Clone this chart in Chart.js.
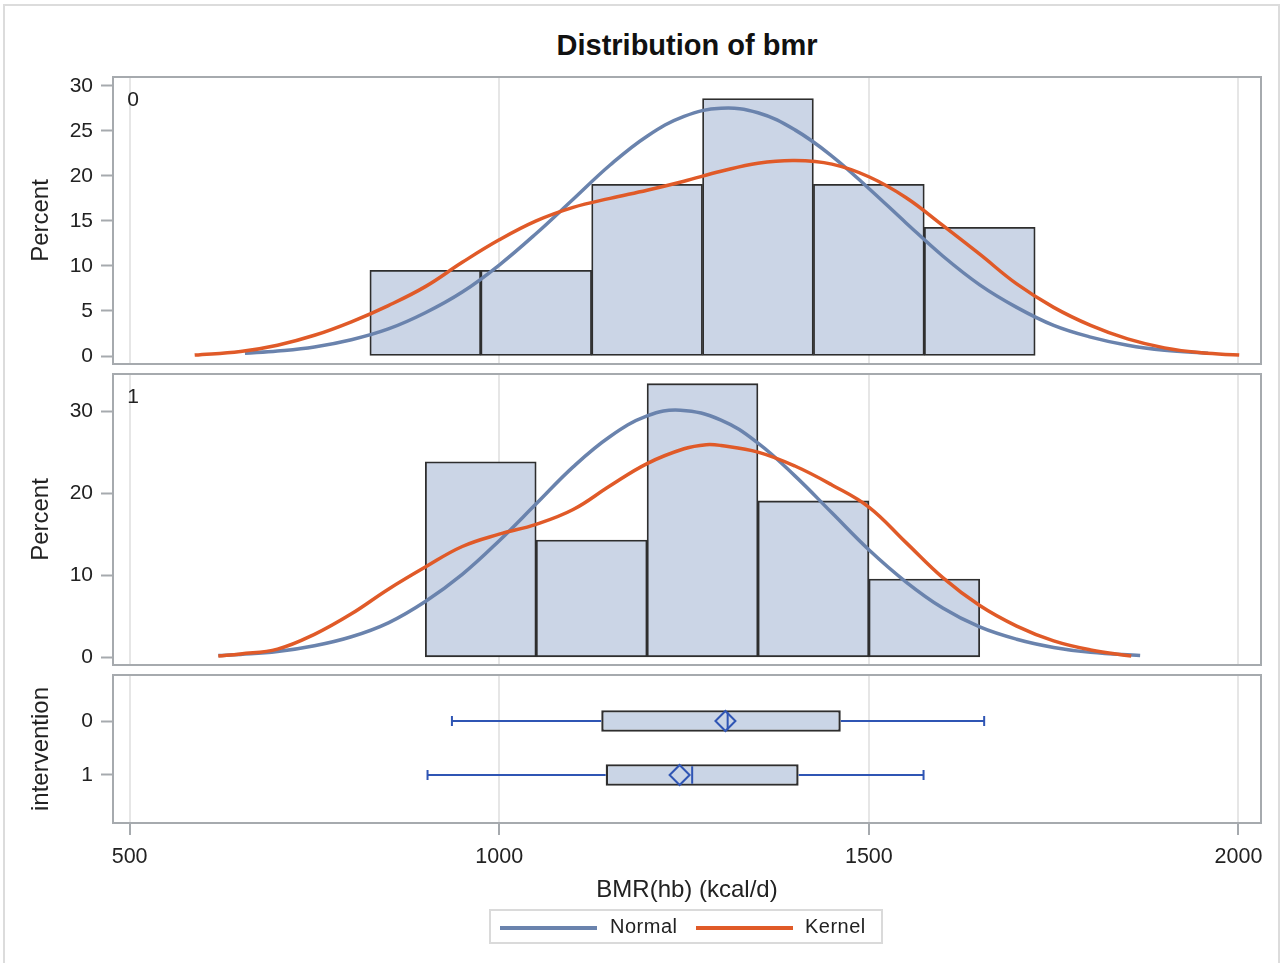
<!DOCTYPE html>
<html>
<head>
<meta charset="utf-8">
<title>Distribution of bmr</title>
<script src="https://cdn.jsdelivr.net/npm/chart.js@4.4.1/dist/chart.umd.min.js"></script>
<style>
  html, body { margin: 0; padding: 0; background: #fff; }
  #wrap { position: relative; width: 1285px; height: 963px; overflow: hidden;
          font-family: 'Liberation Sans', Arial, sans-serif; color: #222; }
  #frame { position: absolute; left: 3px; top: 4px; width: 1277px; height: 990px;
           border: 2px solid #dcdcdc; box-sizing: border-box; }
  canvas { position: absolute; left: 0; top: 0; }
  #title { position: absolute; left: 113px; width: 1148px; top: 31px; line-height: 29px;
           font-size: 29px; font-weight: bold; text-align: center; color: #111; }
  #legend { position: absolute; left: 489px; top: 909px; width: 394px; height: 35px;
            border: 2px solid #dadada; box-sizing: border-box; }
  #legend .swatch { position: absolute; top: 15px; height: 4px; width: 97px; }
  #legend .txt { position: absolute; top: 5px; font-size: 20px; line-height: 20px;
                 letter-spacing: 0.5px; color: #222; }
</style>
</head>
<body>
<div id="wrap">
  <div id="frame"></div>
  <div id="title">Distribution of bmr</div>
  <canvas id="hist0" width="1285" height="963"></canvas>
  <canvas id="hist1" width="1285" height="963"></canvas>
  <canvas id="boxes" width="1285" height="963"></canvas>
  <div id="legend">
    <span class="swatch" style="left:9px;background:#6a83ad"></span>
    <span class="txt" style="left:119px">Normal</span>
    <span class="swatch" style="left:205px;background:#e05a28"></span>
    <span class="txt" style="left:314px">Kernel</span>
  </div>
</div>
<script>
// shared x axis
const xMin = 477.5;
const xMax = 2030.5;
const xTicks = [500, 1000, 1500, 2000];

// histogram, intervention = 0
const binCenters0 = [900, 1050, 1200, 1350, 1500, 1650];
const percent0 = [9.52, 9.52, 19.05, 28.57, 19.05, 14.29];
const normalX0 = [656, 700, 750, 800, 850, 900, 950, 1000, 1050, 1100, 1150, 1200, 1250, 1300,
                  1350, 1400, 1450, 1500, 1550, 1600, 1650, 1700, 1750, 1800, 1850, 1900, 1959];
const normalY0 = [0.3, 0.55, 1.0, 1.8, 3.0, 4.8, 7.1, 10.1, 13.6, 17.4, 21.2, 24.4, 26.6, 27.5,
                  27.0, 25.1, 22.2, 18.6, 14.8, 11.1, 7.9, 5.4, 3.4, 2.1, 1.2, 0.65, 0.3];
const kernelX0 = [588, 650, 700, 750, 800, 850, 900, 950, 1000, 1050, 1100, 1150, 1200, 1250, 1300,
                  1350, 1400, 1450, 1500, 1550, 1600, 1650, 1700, 1750, 1800, 1850, 1900, 1950, 2001];
const kernelY0 = [0.1, 0.5, 1.2, 2.3, 3.8, 5.6, 7.7, 10.4, 12.9, 15.0, 16.5, 17.5, 18.4, 19.4, 20.5,
                  21.4, 21.7, 21.3, 19.9, 17.6, 14.5, 11.3, 8.0, 5.4, 3.4, 1.9, 0.9, 0.35, 0.1];

// histogram, intervention = 1
const binCenters1 = [975, 1125, 1275, 1425, 1575];
const percent1 = [23.81, 14.29, 33.33, 19.05, 9.52];
const normalX1 = [620, 650, 700, 750, 800, 850, 900, 950, 1000, 1050, 1100, 1150, 1200, 1245,
                  1300, 1350, 1400, 1450, 1500, 1550, 1600, 1650, 1700, 1750, 1800, 1867];
const normalY1 = [0.22, 0.35, 0.7, 1.4, 2.5, 4.2, 6.8, 10.1, 14.2, 18.7, 23.2, 26.9, 29.4, 30.1,
                  28.9, 26.1, 22.1, 17.6, 13.1, 9.2, 6.0, 3.7, 2.2, 1.2, 0.6, 0.22];
const kernelX1 = [620, 650, 700, 750, 800, 850, 900, 950, 1000, 1050, 1100, 1150, 1200, 1250, 1280,
                  1300, 1350, 1400, 1450, 1500, 1550, 1600, 1650, 1700, 1750, 1800, 1855];
const kernelY1 = [0.15, 0.4, 1.0, 2.8, 5.3, 8.3, 11.0, 13.5, 15.0, 16.2, 18.0, 20.9, 23.6, 25.4, 25.9,
                  25.8, 25.0, 23.3, 21.0, 18.3, 14.0, 9.7, 6.3, 3.8, 2.0, 0.9, 0.15];

// box plot per intervention group
const groups = ['0', '1'];
const boxMin = [936, 903];
const boxQ1 = [1138, 1144];
const boxMedian = [1309, 1261];
const boxMean = [1306, 1244];
const boxQ3 = [1462, 1405];
const boxMax = [1656, 1574];

const FONT = "'Liberation Sans', Arial, sans-serif";
const TEXT = '#222';
const FRAME = '#a6aaae';
Chart.defaults.font.family = FONT;
Chart.defaults.color = TEXT;

// border around each panel plus the group tag in its corner
const panelFrame = {
  id: 'panelFrame',
  afterDraw(chart, args, opts) {
    const { ctx, chartArea: a } = chart;
    ctx.save();
    ctx.strokeStyle = FRAME;
    ctx.lineWidth = 2;
    ctx.strokeRect(a.left, a.top, a.right - a.left, a.bottom - a.top);
    if (opts.label) {
      ctx.fillStyle = TEXT;
      ctx.font = '21px ' + FONT;
      ctx.textAlign = 'center';
      ctx.textBaseline = 'middle';
      ctx.fillText(opts.label, a.left + 20, a.top + 23);
    }
    ctx.restore();
  }
};

// whiskers, caps, median and mean diamond on top of the floating boxes
const boxWhiskers = {
  id: 'boxWhiskers',
  afterDatasetsDraw(chart) {
    const { ctx, scales: { x, y } } = chart;
    const half = (y.getPixelForValue(1) - y.getPixelForValue(0)) * 0.2;
    ctx.save();
    ctx.strokeStyle = '#2f55b4';
    ctx.lineWidth = 2;
    groups.forEach((g, i) => {
      const cy = y.getPixelForValue(i);
      const px = v => x.getPixelForValue(v);
      ctx.beginPath();
      ctx.moveTo(px(boxMin[i]), cy); ctx.lineTo(px(boxQ1[i]), cy);
      ctx.moveTo(px(boxQ3[i]), cy); ctx.lineTo(px(boxMax[i]), cy);
      ctx.moveTo(px(boxMin[i]), cy - 5); ctx.lineTo(px(boxMin[i]), cy + 5);
      ctx.moveTo(px(boxMax[i]), cy - 5); ctx.lineTo(px(boxMax[i]), cy + 5);
      ctx.moveTo(px(boxMedian[i]), cy - half + 2); ctx.lineTo(px(boxMedian[i]), cy + half - 2);
      ctx.stroke();
      const mx = px(boxMean[i]);
      ctx.beginPath();
      ctx.moveTo(mx, cy - 10); ctx.lineTo(mx + 10, cy);
      ctx.lineTo(mx, cy + 10); ctx.lineTo(mx - 10, cy);
      ctx.closePath();
      ctx.stroke();
    });
    ctx.restore();
  }
};

function toPoints(xs, ys) {
  return xs.map((v, i) => ({ x: v, y: ys[i] }));
}

function yAxis(min, max, ticks, title, labels) {
  return {
    type: 'linear', min: min, max: max, offset: false,
    afterBuildTicks: s => { s.ticks = ticks.map(v => ({ value: v })); },
    afterFit: s => { s.width = 113; },
    grid: { offset: false, drawOnChartArea: false, drawTicks: true, tickLength: 12,
            tickColor: FRAME, tickWidth: 2 },
    border: { display: false },
    ticks: { padding: 8, autoSkip: false, font: { size: 21 }, color: TEXT,
             callback: v => labels ? labels[v] : String(v) },
    title: { display: true, text: title, font: { size: 24 }, color: TEXT,
             padding: { top: 27, bottom: 0 } }
  };
}

function histChart(id, top, bottom, yMin, yMax, yTicks, centers, percents, nx, ny, kx, ky, tag) {
  return new Chart(document.getElementById(id), {
    type: 'bar',
    data: {
      datasets: [
        { type: 'line', data: toPoints(kx, ky), borderColor: '#e05a28', borderWidth: 3.5,
          pointRadius: 0, tension: 0.4, fill: false, order: 0 },
        { type: 'line', data: toPoints(nx, ny), borderColor: '#6a83ad', borderWidth: 3.5,
          pointRadius: 0, tension: 0.4, fill: false, order: 1 },
        { type: 'bar', data: toPoints(centers, percents), backgroundColor: '#cbd5e6',
          borderColor: '#2e2e2e', borderWidth: 1.8, borderSkipped: false,
          barPercentage: 1, categoryPercentage: 1, order: 2 }
      ]
    },
    options: {
      responsive: false, animation: false, events: [], devicePixelRatio: 1,
      layout: { autoPadding: false, padding: { left: 0, right: 24, top: top, bottom: 963 - bottom } },
      plugins: { legend: { display: false }, tooltip: { enabled: false },
                 panelFrame: { label: tag } },
      scales: {
        x: {
          type: 'linear', min: xMin, max: xMax, offset: false,
          afterBuildTicks: s => { s.ticks = xTicks.map(v => ({ value: v })); },
          afterFit: s => { s.height = 0; },
          grid: { offset: false, color: '#e6e6e6', lineWidth: 2, drawTicks: false },
          border: { display: false },
          ticks: { display: false }
        },
        y: yAxis(yMin, yMax, yTicks, 'Percent')
      }
    },
    plugins: [panelFrame]
  });
}

histChart('hist0', 77, 364, -0.888, 30.97, [0, 5, 10, 15, 20, 25, 30],
          binCenters0, percent0, normalX0, normalY0, kernelX0, kernelY0, '0');
histChart('hist1', 374, 665, -0.938, 34.51, [0, 10, 20, 30],
          binCenters1, percent1, normalX1, normalY1, kernelX1, kernelY1, '1');

// box plot panel carries the shared x axis
new Chart(document.getElementById('boxes'), {
  type: 'bar',
  data: {
    datasets: [{
      data: groups.map((g, i) => ({ x: [boxQ1[i], boxQ3[i]], y: i })),
      backgroundColor: '#cad5e6', borderColor: '#2e2e2e', borderWidth: 2.4, borderSkipped: false,
      barPercentage: 0.4, categoryPercentage: 1
    }]
  },
  options: {
    indexAxis: 'y',
    responsive: false, animation: false, events: [], devicePixelRatio: 1,
    layout: { autoPadding: false, padding: { left: 0, right: 24, top: 675, bottom: 58 } },
    plugins: { legend: { display: false }, tooltip: { enabled: false }, panelFrame: {} },
    scales: {
      x: {
        type: 'linear', min: xMin, max: xMax, offset: false, position: 'bottom',
        afterBuildTicks: s => { s.ticks = xTicks.map(v => ({ value: v })); },
        afterFit: s => { s.height = 82; },
        grid: { offset: false, color: '#e6e6e6', lineWidth: 2, drawTicks: true, tickLength: 12,
                tickColor: FRAME, tickWidth: 2 },
        border: { display: false },
        ticks: { padding: 9, autoSkip: false, maxRotation: 0, font: { size: 21.5 }, color: TEXT,
                 callback: v => String(v) },
        title: { display: true, text: 'BMR(hb) (kcal/d)', font: { size: 24 }, color: TEXT, padding: 0 }
      },
      y: Object.assign(yAxis(-0.852, 1.889, [0, 1], 'intervention', groups), { reverse: true })
    }
  },
  plugins: [panelFrame, boxWhiskers]
});
</script>
</body>
</html>
